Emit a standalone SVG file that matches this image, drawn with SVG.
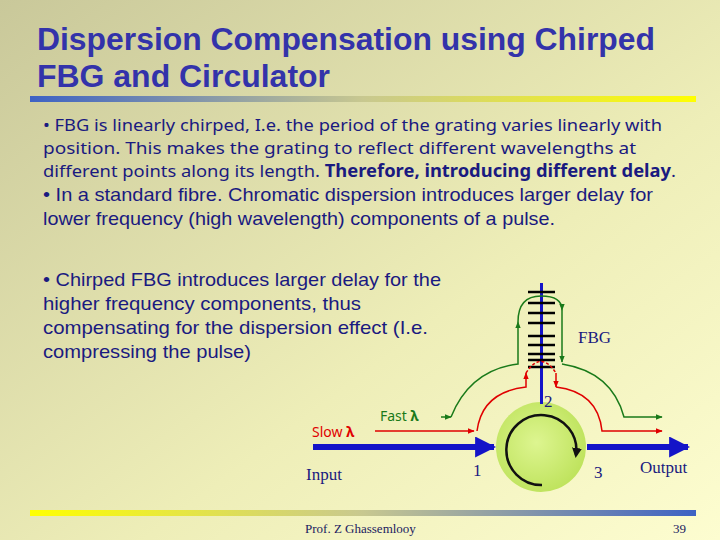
<svg xmlns="http://www.w3.org/2000/svg" width="720" height="540" viewBox="0 0 720 540">
<defs>
<linearGradient id="bg" x1="0" y1="0" x2="1" y2="1"><stop offset="0" stop-color="#c9c89a"/><stop offset="0.6" stop-color="#eeeeb8"/><stop offset="1" stop-color="#fdfdd0"/></linearGradient>
<linearGradient id="b1" x1="0" y1="0" x2="1" y2="0"><stop offset="0" stop-color="#3d62c4"/><stop offset="0.5" stop-color="#c8c890"/><stop offset="1" stop-color="#ffff00"/></linearGradient>
<linearGradient id="b2" x1="1" y1="0" x2="0" y2="0"><stop offset="0" stop-color="#3d62c4"/><stop offset="0.5" stop-color="#c8c890"/><stop offset="1" stop-color="#ffff00"/></linearGradient>
<radialGradient id="cg" cx="0.45" cy="0.45" r="0.6"><stop offset="0" stop-color="#ddf590"/><stop offset="1" stop-color="#bde25a"/></radialGradient>
<marker id="ab" viewBox="0 0 10 10" refX="9" refY="5" markerWidth="3.5" markerHeight="3.5" orient="auto"><path d="M0,0L10,5L0,10z" fill="#1414c8"/></marker>
<marker id="ar" viewBox="0 0 10 10" refX="9" refY="5" markerWidth="4.5" markerHeight="4.5" orient="auto"><path d="M0,1L10,5L0,9z" fill="#e00000"/></marker>
<marker id="ag" viewBox="0 0 10 10" refX="9" refY="5" markerWidth="4.5" markerHeight="4.5" orient="auto"><path d="M0,1L10,5L0,9z" fill="#1a7a1a"/></marker>
<marker id="ak" viewBox="0 0 10 10" refX="7" refY="5" markerWidth="4" markerHeight="4" orient="auto"><path d="M0,0L10,5L0,10z" fill="#111"/></marker>
<style>
.t{font-family:"Liberation Sans",Arial,sans-serif;font-weight:bold;font-size:31.5px;fill:#3333aa}
.s{font-family:"Liberation Sans",Arial,sans-serif;font-size:19px;fill:#1a1a80}
.c{font-family:"Noto Sans","Liberation Sans",sans-serif;font-size:17px;fill:#1a1a80}
.m{font-family:"Liberation Serif","Times New Roman",serif;font-size:17px;fill:#1a1a80}
.red{stroke:#e00000;stroke-width:1.5;fill:none}
.grn{stroke:#1a7a1a;stroke-width:1.5;fill:none}
.blu{stroke:#1414c8;stroke-width:6;fill:none}
</style>
</defs>
<rect width="720" height="540" fill="url(#bg)"/>
<text class="t" x="37" y="50" textLength="618" lengthAdjust="spacingAndGlyphs">Dispersion Compensation using Chirped</text>
<text class="t" x="37" y="87" textLength="293" lengthAdjust="spacingAndGlyphs">FBG and Circulator</text>
<rect x="30" y="96" width="666" height="6" fill="url(#b1)"/>
<text class="c" x="43" y="131" textLength="619" lengthAdjust="spacingAndGlyphs">• FBG is linearly chirped, I.e. the period of the grating varies linearly with</text>
<text class="c" x="43" y="154" textLength="593" lengthAdjust="spacingAndGlyphs">position. This makes the grating to reflect different wavelengths at</text>
<text class="c" x="43" y="177" textLength="633" lengthAdjust="spacingAndGlyphs">different points along its length. <tspan font-weight="bold">Therefore, introducing different delay</tspan>.</text>
<text class="s" x="43" y="201" textLength="610" lengthAdjust="spacingAndGlyphs">• In a standard fibre. Chromatic dispersion introduces larger delay for</text>
<text class="s" x="43" y="225" textLength="512" lengthAdjust="spacingAndGlyphs">lower frequency (high wavelength) components of a pulse.</text>
<text class="s" x="43" y="286" textLength="398" lengthAdjust="spacingAndGlyphs">• Chirped FBG introduces larger delay for the</text>
<text class="s" x="43" y="310" textLength="318" lengthAdjust="spacingAndGlyphs">higher frequency components,  thus</text>
<text class="s" x="43" y="334" textLength="385" lengthAdjust="spacingAndGlyphs">compensating for the dispersion effect (I.e.</text>
<text class="s" x="43" y="358" textLength="208" lengthAdjust="spacingAndGlyphs">compressing the pulse)</text>
<g id="circulator">
<circle cx="541" cy="447" r="45" fill="url(#cg)"/>
<path d="M542,485 A35,35 0 1 1 576,455" fill="none" stroke="#111" stroke-width="2.5" marker-end="url(#ak)"/>
</g>
<g id="fbg">
<line x1="541.5" y1="283" x2="541.5" y2="404" stroke="#1414c8" stroke-width="3"/>
<g stroke="#000" stroke-width="2.5">
<line x1="528" y1="292" x2="555" y2="292"/><line x1="528" y1="303" x2="555" y2="303"/><line x1="528" y1="313" x2="555" y2="313"/><line x1="528" y1="323" x2="555" y2="323"/><line x1="528" y1="336" x2="555" y2="336"/><line x1="528" y1="345" x2="555" y2="345"/><line x1="528" y1="354" x2="555" y2="354"/><line x1="528" y1="360" x2="555" y2="360"/><line x1="528" y1="367" x2="555" y2="367"/>
</g>
</g>
<g id="connectors">
<line class="blu" x1="313" y1="447" x2="494" y2="447" marker-end="url(#ab)"/>
<line class="blu" x1="587" y1="447" x2="688" y2="447" marker-end="url(#ab)"/>
<path class="red" d="M375,431 L474,431" marker-end="url(#ar)"/>
<path class="red" d="M477,431 Q482,392 526,387 L526,373" marker-end="url(#ar)"/>
<path class="red" d="M526,373 Q541,350 556,373" stroke-dasharray="3,2"/>
<path class="red" d="M556,373 L556,387" marker-end="url(#ar)"/>
<path class="red" d="M556,387 Q598,392 602,431 L662,431" marker-end="url(#ar)"/>
<path class="grn" d="M441,417 L451,417" marker-end="url(#ag)"/>
<path class="grn" d="M451,417 Q470,370 518,364 L518,322" marker-end="url(#ag)"/>
<path class="grn" d="M518,322 Q518,296 541,296 Q562,296 562,310" marker-end="url(#ag)"/>
<path class="grn" d="M562,310 L562,362" marker-end="url(#ag)"/>
<path class="grn" d="M562,364 Q612,372 624,417 L662,417" marker-end="url(#ag)"/>
</g>
<g class="m">
<text x="578" y="343">FBG</text>
<text x="544" y="407">2</text>
<text x="473" y="476">1</text>
<text x="594" y="478">3</text>
<text x="640" y="473">Output</text>
<text x="306" y="480">Input</text>
</g>
<text x="380" y="421" style="font-family:'Noto Sans',sans-serif;font-size:14px;fill:#1a7a1a">Fast <tspan font-weight="bold">λ</tspan></text>
<text x="312" y="437" style="font-family:'Noto Sans',sans-serif;font-size:14px;fill:#e00000">Slow <tspan font-weight="bold">λ</tspan></text>
<rect x="30" y="510" width="666" height="6" fill="url(#b2)"/>
<text x="305" y="533" style="font-family:'Liberation Serif',serif;font-size:13px;fill:#1a1a60">Prof. Z Ghassemlooy</text>
<text x="673" y="533" style="font-family:'Liberation Serif',serif;font-size:13px;fill:#1a1a60">39</text>
</svg>
